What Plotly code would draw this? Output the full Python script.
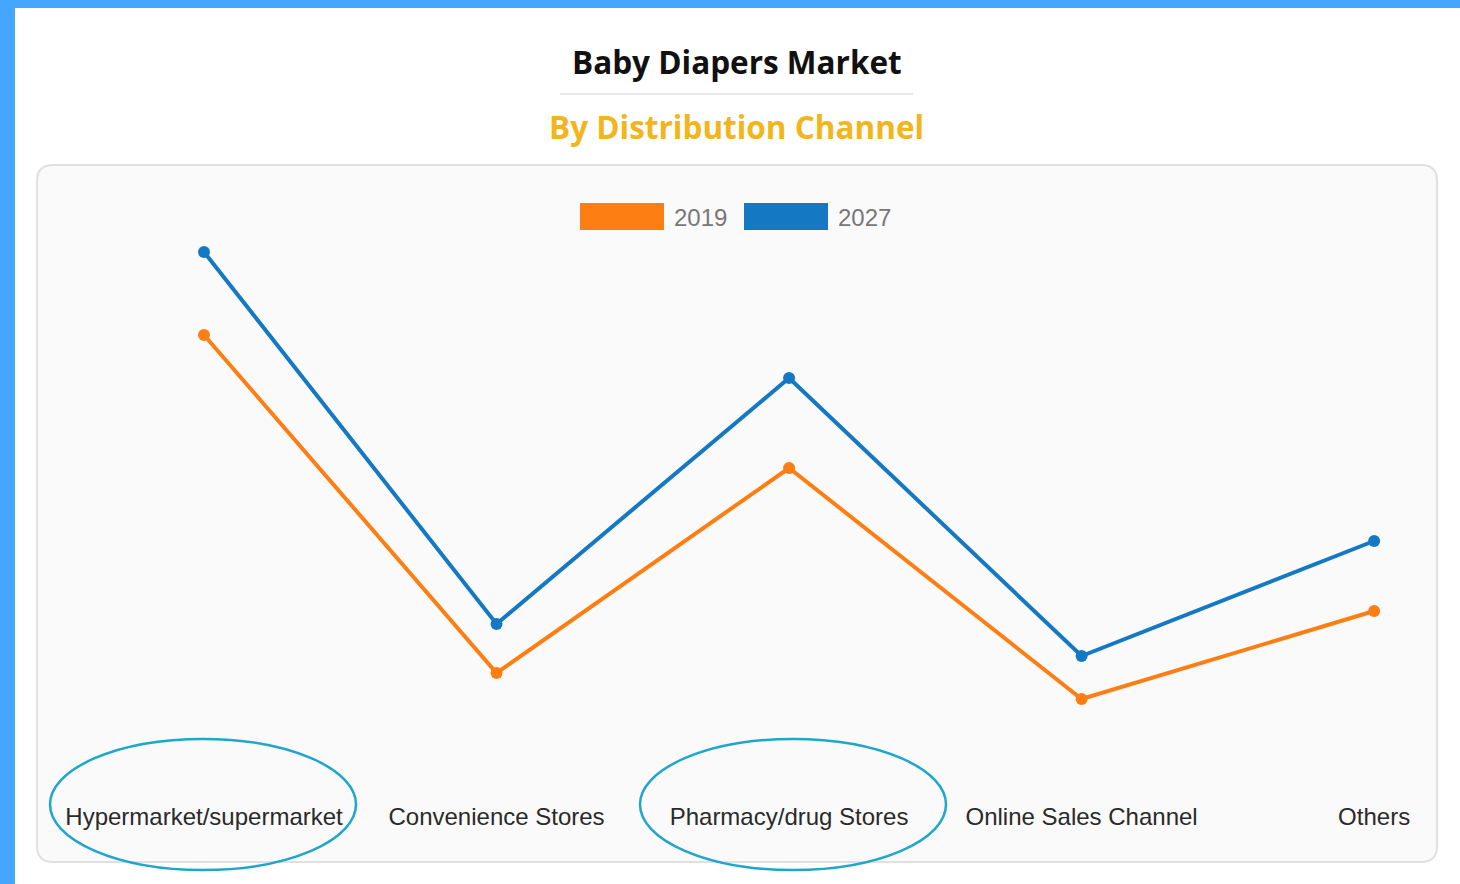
import plotly.graph_objects as go

W, H = 1460, 884

categories = ["Hypermarket/supermarket", "Convenience Stores", "Pharmacy/drug Stores",
              "Online Sales Channel", "Others"]
values_2019 = [42.5, 8.7, 29.2, 6.1, 14.9]
values_2027 = [50.8, 13.6, 38.2, 10.4, 21.9]
series_names = ["2019", "2027"]
series_colors = ["#fd7f14", "#1578c3"]

def px(x):
    return x / W

def py(y):
    return 1 - y / H

fig = go.Figure()
for name, vals, col in zip(series_names, [values_2019, values_2027], series_colors):
    fig.add_trace(go.Scatter(
        x=categories, y=vals, name=name, mode="lines+markers",
        line=dict(color=col, width=4),
        marker=dict(color=col, size=12),
        showlegend=False,
    ))

shapes = []
# blue frame
shapes.append(dict(type="rect", xref="paper", yref="paper", x0=0, x1=px(15), y0=0, y1=1,
                   fillcolor="#45a6fe", line=dict(width=0), layer="below"))
shapes.append(dict(type="rect", xref="paper", yref="paper", x0=0, x1=1, y0=py(8), y1=1,
                   fillcolor="#45a6fe", line=dict(width=0), layer="below"))
# title underline
shapes.append(dict(type="line", xref="paper", yref="paper", x0=px(560), x1=px(913),
                   y0=py(94), y1=py(94), line=dict(color="#e2e2e2", width=1.5)))
# rounded panel
L, R, T, B, r = 37, 1437, 165, 862, 16
path = (f"M {px(L+r)},{py(T)} L {px(R-r)},{py(T)} Q {px(R)},{py(T)} {px(R)},{py(T+r)} "
        f"L {px(R)},{py(B-r)} Q {px(R)},{py(B)} {px(R-r)},{py(B)} "
        f"L {px(L+r)},{py(B)} Q {px(L)},{py(B)} {px(L)},{py(B-r)} "
        f"L {px(L)},{py(T+r)} Q {px(L)},{py(T)} {px(L+r)},{py(T)} Z")
shapes.append(dict(type="path", xref="paper", yref="paper", path=path,
                   fillcolor="#fafafa", line=dict(color="#e0e0e0", width=2), layer="below"))
# legend boxes
legend_boxes = [(580, 664), (744, 828)]
for (x0, x1), col in zip(legend_boxes, series_colors):
    shapes.append(dict(type="rect", xref="paper", yref="paper", x0=px(x0), x1=px(x1),
                       y0=py(230), y1=py(203), fillcolor=col, line=dict(width=0)))
# ellipses
for (x0, x1) in [(50, 356), (640, 946)]:
    shapes.append(dict(type="circle", xref="paper", yref="paper", x0=px(x0), x1=px(x1),
                       y0=py(870), y1=py(739), line=dict(color="#1ea6cc", width=2.5)))

annotations = [
    dict(text="<b>Baby Diapers Market</b>", x=px(737), y=py(62), xref="paper", yref="paper",
         xanchor="center", yanchor="middle", showarrow=False,
         font=dict(family="Open Sans", size=31.5, color="#111111")),
    dict(text="<b>By Distribution Channel</b>", x=px(737), y=py(127), xref="paper", yref="paper",
         xanchor="center", yanchor="middle", showarrow=False,
         font=dict(family="Open Sans", size=31.5, color="#f2b51c")),
]
for (x0, x1), name in zip(legend_boxes, series_names):
    annotations.append(dict(text=name, x=px(x1 + 8), y=py(217), xref="paper", yref="paper",
                            xanchor="left", yanchor="middle", showarrow=False,
                            font=dict(family="Liberation Sans", size=24, color="#777777")))

fig.update_layout(
    width=W, height=H,
    margin=dict(l=0, r=0, t=0, b=0),
    paper_bgcolor="white",
    plot_bgcolor="rgba(0,0,0,0)",
    shapes=shapes,
    annotations=annotations,
    xaxis=dict(domain=[px(50), px(1430)], range=[-0.5265, 4.191], showgrid=False,
               zeroline=False, showline=False, ticks="", ticklabelstandoff=10,
               tickfont=dict(family="Liberation Sans", size=24, color="#2a2a2a"),
               automargin=False),
    yaxis=dict(domain=[py(790), py(240)], range=[-3, 52], visible=False, automargin=False),
    showlegend=False,
)

fig.write_html("out.html", config={"displayModeBar": False},
               post_script="document.body.style.margin='0';")
